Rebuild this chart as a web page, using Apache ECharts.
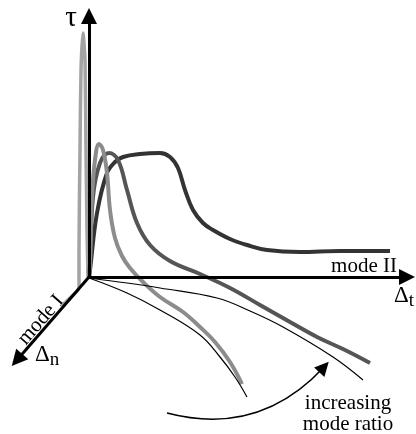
<!DOCTYPE html>
<html>
<head>
<meta charset="utf-8">
<script src="https://cdn.jsdelivr.net/npm/echarts@6/dist/echarts.min.js"></script>
<style>html,body{margin:0;padding:0;background:#fff}#c{width:416px;height:434px}</style>
</head>
<body>
<div id="c"></div>
<script>
// Curve data (schematic traction-separation curves)
var spikeCurve = [[62,306],[70,298],[79,288],[79,250],[80,150],[81,70],[83,33],[85,60],[86,150],[87,230],[88,277]];
var curveLight = [[89,277],[90,262],[92,197],[95,160],[99,144],[103,150],[107,173],[110,210],[115,238],[122,256],[130,268],[143,282],[160,297],[183,312],[200,327],[215,342],[230,362],[242,384]];
var curveMid = [[89,277],[90,265],[93,197],[100,163],[109,153],[118,160],[127,190],[137,223],[150,245],[170,261],[200,274],[230,288],[260,305],[290,322],[317,337],[345,350],[370,363]];
var curveDark = [[89,277],[90,270],[97,213],[107,173],[115,162],[123,157],[140,154],[160,153],[170,157],[178,168],[185,190],[193,210],[203,223],[213,230],[230,239],[247,245],[267,250],[300,252],[340,251],[390,251]];
var thinUpper = [[89,278],[127,283],[160,288],[217,298],[250,311],[283,327],[333,357],[363,380]];
var thinLower = [[89,278],[127,293],[160,310],[200,335],[220,357],[235,377],[247,397]];
// Axes (start, end) and curved "increasing" arrow
var axisTau = [[89,277],[89,16]];
var axisModeII = [[89,277],[407,277]];
var axisModeI = [[89,277],[17,360]];
var ratioArrow = [[167,413],[324,367]];
// Labels
var labelTau = 'τ';
var labelModeII = 'mode II';
var labelModeI = 'mode I';
var labelDt = ['Δ','t'];
var labelDn = ['Δ','n'];
var labelNote = ['increasing','mode ratio'];

var chart = echarts.init(document.getElementById('c'), null, {renderer:'canvas'});
var FONT = '"Liberation Serif", "DejaVu Serif", serif';
function curve(data, color, width, smooth, z){
  return {type:'line', data:data, showSymbol:false, smooth:smooth, lineStyle:{color:color, width:width}, z:z||2, silent:true, animation:false};
}
function arrowLine(pts, width, size, curveness){
  return {type:'lines', coordinateSystem:'cartesian2d', data:[{coords:pts}], symbol:['none','triangle'], symbolSize:[0,size],
    lineStyle:{color:'#000', width:width, opacity:1, curveness:curveness||0}, z:5, silent:true, animation:false};
}
chart.setOption({
  animation:false,
  grid:{left:0,right:0,top:0,bottom:0},
  xAxis:{type:'value', min:0, max:416, show:false},
  yAxis:{type:'value', min:0, max:434, inverse:true, show:false},
  series:[
    curve(spikeCurve, '#a3a3a3', 3.5, 0.2, 2),
    curve(curveDark, '#333333', 4, 0.4, 3),
    curve(curveMid, '#555555', 4, 0.4, 3),
    curve(curveLight, '#8c8c8c', 4, 0.4, 3),
    curve(thinUpper, '#000', 1.2, 0.4, 3),
    curve(thinLower, '#000', 1.2, 0.4, 3),
    arrowLine(axisTau, 3, 16),
    arrowLine(axisModeII, 3, 16),
    arrowLine(axisModeI, 3, 16),
    arrowLine(ratioArrow, 1.5, 14, -0.3)
  ],
  graphic:[
    {type:'text', x:71, y:18, style:{text:labelTau, font:'29px '+FONT, fill:'#000', align:'center', verticalAlign:'middle'}},
    {type:'text', x:364, y:266, style:{text:labelModeII, font:'21px '+FONT, fill:'#000', align:'center', verticalAlign:'middle'}},
    {type:'text', x:41, y:320, rotation:0.85, style:{text:labelModeI, font:'21px '+FONT, fill:'#000', align:'center', verticalAlign:'middle'}},
    {type:'text', x:394, y:296, style:{text:'{b|'+labelDt[0]+'}{s|'+labelDt[1]+'}', align:'left', verticalAlign:'middle',
      rich:{b:{font:'23px '+FONT, fill:'#000'}, s:{font:'19px '+FONT, fill:'#000', padding:[11,0,0,0]}}}},
    {type:'text', x:35, y:355, style:{text:'{b|'+labelDn[0]+'}{s|'+labelDn[1]+'}', align:'left', verticalAlign:'middle',
      rich:{b:{font:'23px '+FONT, fill:'#000'}, s:{font:'19px '+FONT, fill:'#000', padding:[11,0,0,0]}}}},
    {type:'text', x:348, y:403, style:{text:labelNote[0], font:'21px '+FONT, fill:'#000', align:'center', verticalAlign:'middle'}},
    {type:'text', x:348, y:424, style:{text:labelNote[1], font:'21px '+FONT, fill:'#000', align:'center', verticalAlign:'middle'}}
  ]
});
</script>
</body>
</html>
